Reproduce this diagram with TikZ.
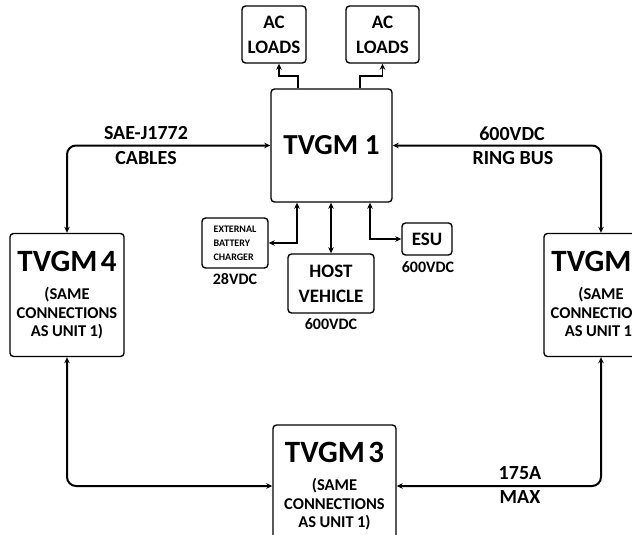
\documentclass[tikz,border=0pt]{standalone}
\usepackage{fontspec}
\setmainfont{Carlito}
\usetikzlibrary{arrows.meta}
\newcommand\tvgmtext[1]{{\fontsize{31}{31}\selectfont TVGM #1\par}\vspace{10pt}{\fontsize{16.5}{18.5}\selectfont (SAME\\CONNECTIONS\\AS UNIT 1)\par}}
\begin{document}
\begin{tikzpicture}[x=1pt,y=-1pt,
  >={Stealth[length=6pt,width=5.5pt]},
  box/.style={draw,line width=1.4pt,rounded corners=3.5pt,inner sep=0pt,align=center,font=\bfseries},
  unit/.style={box,minimum width=114pt,minimum height=123pt,text width=112pt},
  ring/.style={line width=2pt,rounded corners=9pt},
  link/.style={line width=1.6pt},
  lbl/.style={font=\bfseries\fontsize{20}{24}\selectfont,inner sep=0pt},
  vlbl/.style={font=\bfseries\fontsize{16}{19}\selectfont,inner sep=0pt},
]
\useasboundingbox (0,0) rectangle (632,535);
\clip (0,0) rectangle (632,535);

% boxes
\node[box,minimum width=121pt,minimum height=113pt,font=\bfseries\fontsize{29}{29}\selectfont] (t1) at (331.5,145.5) {TVGM 1};
\node[box,minimum width=64pt,minimum height=57pt,font=\bfseries\fontsize{19}{25}\selectfont] (ac1) at (274,34.5) {AC\\LOADS};
\node[box,minimum width=73pt,minimum height=57pt,font=\bfseries\fontsize{19}{25}\selectfont] (ac2) at (382.5,34.5) {AC\\LOADS};
\node[box,align=left,minimum width=66pt,minimum height=50pt,font=\bfseries\fontsize{10}{14}\selectfont] (ch) at (235,243) {EXTERNAL\\BATTERY\\CHARGER};
\node[box,minimum width=86pt,minimum height=59pt,font=\bfseries\fontsize{19}{25}\selectfont] (host) at (331,283.5) {HOST\\VEHICLE};
\node[box,minimum width=50pt,minimum height=32pt,font=\bfseries\fontsize{19}{25}\selectfont] (esu) at (427,239) {ESU};
\node[unit] (t4) at (67,295) {\tvgmtext{4}};
\node[unit] (t2) at (601,295) {\tvgmtext{2}};
\node[unit,minimum width=123pt,minimum height=122pt] (t3) at (334.5,486) {\tvgmtext{3}};

% ring connections
\draw[ring,<->] (t4.north) |- (t1.west);
\draw[ring,<->] (t2.north) |- (t1.east);
\draw[ring,<->] (t4.south) |- (t3.west);
\draw[ring,<->] (t2.south) |- (t3.east);

% local connections
\draw[link,->] ([xshift=-33.5pt]t1.north) -- ++(0,-12) -| ([xshift=5pt]ac1.south);
\draw[link,->] ([xshift=28.5pt]t1.north) -- ++(0,-12) -| (ac2.south);
\draw[link,<->] ([xshift=-34.5pt]t1.south) |- (ch.east);
\draw[link,<->] (t1.south -| host.north) -- (host.north);
\draw[link,<->] ([xshift=38.5pt]t1.south) |- (esu.west);

% labels
\node[lbl] (l1) at (146,133) {SAE-J1772};
\node[lbl] (l2) at (146,158) {CABLES};
\node[lbl] (l3) at (512,134) {600VDC};
\node[lbl] (l4) at (513,158) {RING BUS};
\node[lbl] (l5) at (520,473) {175A};
\node[lbl] (l6) at (520,497) {MAX};
\node[vlbl] (v1) at (235,279) {28VDC};
\node[vlbl] (v2) at (331,324) {600VDC};
\node[vlbl] (v3) at (428,267) {600VDC};
\end{tikzpicture}
\end{document}
